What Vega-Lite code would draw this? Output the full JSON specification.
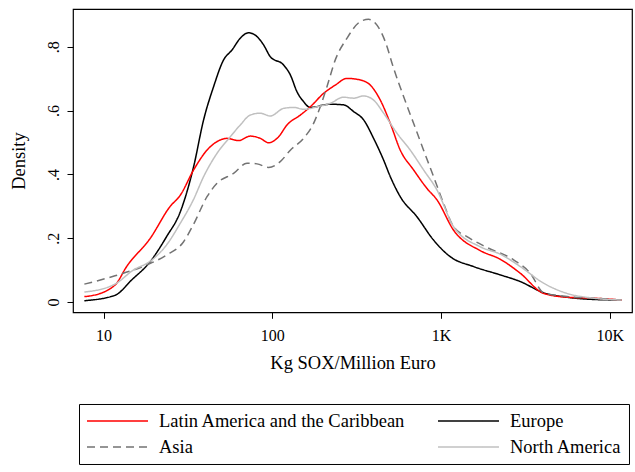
{
  "$schema": "https://vega.github.io/schema/vega-lite/v6.json",
  "autosize": {"type": "none"},
  "width": 559,
  "height": 303.3,
  "padding": {"left": 73, "top": 9, "right": 3, "bottom": 160},
  "background": "white",
  "config": {
    "font": "Liberation Serif",
    "view": {"stroke": "#000", "strokeWidth": 1.2},
    "axis": {"grid": false, "domain": false, "tickColor": "#000", "tickSize": 6, "labelFont": "Liberation Serif", "titleFont": "Liberation Serif", "labelColor": "#000", "titleColor": "#000", "titleFontWeight": "normal"}
  },
  "datasets": {
    "dens": [
      {"region": "Europe", "x": 7.69, "d": 0.004}, {"region": "Europe", "x": 11.68, "d": 0.021}, {"region": "Europe", "x": 14.66, "d": 0.069}, {"region": "Europe", "x": 18.92, "d": 0.127}, {"region": "Europe", "x": 23.63, "d": 0.205}, {"region": "Europe", "x": 28.5, "d": 0.283}, {"region": "Europe", "x": 34.16, "d": 0.424}, {"region": "Europe", "x": 39.16, "d": 0.571}, {"region": "Europe", "x": 44.87, "d": 0.675}, {"region": "Europe", "x": 51.44, "d": 0.759}, {"region": "Europe", "x": 57.69, "d": 0.79}, {"region": "Europe", "x": 64.61, "d": 0.827}, {"region": "Europe", "x": 72.36, "d": 0.844}, {"region": "Europe", "x": 81.16, "d": 0.832}, {"region": "Europe", "x": 88.79, "d": 0.806}, {"region": "Europe", "x": 97.3, "d": 0.769}, {"region": "Europe", "x": 116.7, "d": 0.743}, {"region": "Europe", "x": 127.9, "d": 0.712}, {"region": "Europe", "x": 140.1, "d": 0.659}, {"region": "Europe", "x": 153.3, "d": 0.628}, {"region": "Europe", "x": 168, "d": 0.61}, {"region": "Europe", "x": 220.7, "d": 0.62}, {"region": "Europe", "x": 264.6, "d": 0.618}, {"region": "Europe", "x": 303.4, "d": 0.597}, {"region": "Europe", "x": 347.8, "d": 0.571}, {"region": "Europe", "x": 398.5, "d": 0.513}, {"region": "Europe", "x": 456.8, "d": 0.445}, {"region": "Europe", "x": 500.6, "d": 0.393}, {"region": "Europe", "x": 573.7, "d": 0.33}, {"region": "Europe", "x": 720.7, "d": 0.267}, {"region": "Europe", "x": 903.8, "d": 0.194}, {"region": "Europe", "x": 1135, "d": 0.142}, {"region": "Europe", "x": 1561, "d": 0.111}, {"region": "Europe", "x": 2246, "d": 0.085}, {"region": "Europe", "x": 2953, "d": 0.064}, {"region": "Europe", "x": 4057, "d": 0.029}, {"region": "Europe", "x": 5584, "d": 0.015}, {"region": "Europe", "x": 8027, "d": 0.008}, {"region": "Europe", "x": 11830, "d": 0.006},
      {"region": "Latin America and the Caribbean", "x": 7.69, "d": 0.017}, {"region": "Latin America and the Caribbean", "x": 8.31, "d": 0.019}, {"region": "Latin America and the Caribbean", "x": 11.68, "d": 0.053}, {"region": "Latin America and the Caribbean", "x": 13.69, "d": 0.111}, {"region": "Latin America and the Caribbean", "x": 18.92, "d": 0.2}, {"region": "Latin America and the Caribbean", "x": 24.75, "d": 0.299}, {"region": "Latin America and the Caribbean", "x": 28.5, "d": 0.335}, {"region": "Latin America and the Caribbean", "x": 34.16, "d": 0.414}, {"region": "Latin America and the Caribbean", "x": 41.02, "d": 0.476}, {"region": "Latin America and the Caribbean", "x": 49.17, "d": 0.508}, {"region": "Latin America and the Caribbean", "x": 53.88, "d": 0.513}, {"region": "Latin America and the Caribbean", "x": 63.13, "d": 0.506}, {"region": "Latin America and the Caribbean", "x": 74.06, "d": 0.52}, {"region": "Latin America and the Caribbean", "x": 84.9, "d": 0.513}, {"region": "Latin America and the Caribbean", "x": 95.08, "d": 0.499}, {"region": "Latin America and the Caribbean", "x": 109, "d": 0.518}, {"region": "Latin America and the Caribbean", "x": 122.2, "d": 0.555}, {"region": "Latin America and the Caribbean", "x": 146.6, "d": 0.586}, {"region": "Latin America and the Caribbean", "x": 168, "d": 0.612}, {"region": "Latin America and the Caribbean", "x": 201.4, "d": 0.654}, {"region": "Latin America and the Caribbean", "x": 236.3, "d": 0.68}, {"region": "Latin America and the Caribbean", "x": 277.2, "d": 0.701}, {"region": "Latin America and the Caribbean", "x": 332.4, "d": 0.696}, {"region": "Latin America and the Caribbean", "x": 380.9, "d": 0.68}, {"region": "Latin America and the Caribbean", "x": 436.7, "d": 0.633}, {"region": "Latin America and the Caribbean", "x": 500.6, "d": 0.56}, {"region": "Latin America and the Caribbean", "x": 573.7, "d": 0.476}, {"region": "Latin America and the Caribbean", "x": 688, "d": 0.414}, {"region": "Latin America and the Caribbean", "x": 826, "d": 0.356}, {"region": "Latin America and the Caribbean", "x": 947, "d": 0.32}, {"region": "Latin America and the Caribbean", "x": 1188, "d": 0.225}, {"region": "Latin America and the Caribbean", "x": 1710, "d": 0.161}, {"region": "Latin America and the Caribbean", "x": 2246, "d": 0.134}, {"region": "Latin America and the Caribbean", "x": 2953, "d": 0.09}, {"region": "Latin America and the Caribbean", "x": 4057, "d": 0.027}, {"region": "Latin America and the Caribbean", "x": 5584, "d": 0.015}, {"region": "Latin America and the Caribbean", "x": 8027, "d": 0.012}, {"region": "Latin America and the Caribbean", "x": 11830, "d": 0.006},
      {"region": "Asia", "x": 7.69, "d": 0.056}, {"region": "Asia", "x": 11.68, "d": 0.082}, {"region": "Asia", "x": 17.98, "d": 0.116}, {"region": "Asia", "x": 23.63, "d": 0.147}, {"region": "Asia", "x": 29.81, "d": 0.189}, {"region": "Asia", "x": 34.16, "d": 0.244}, {"region": "Asia", "x": 41.02, "d": 0.33}, {"region": "Asia", "x": 47.01, "d": 0.372}, {"region": "Asia", "x": 58.96, "d": 0.403}, {"region": "Asia", "x": 70.79, "d": 0.435}, {"region": "Asia", "x": 81.16, "d": 0.433}, {"region": "Asia", "x": 95.08, "d": 0.422}, {"region": "Asia", "x": 111.5, "d": 0.44}, {"region": "Asia", "x": 127.9, "d": 0.476}, {"region": "Asia", "x": 153.3, "d": 0.513}, {"region": "Asia", "x": 175.7, "d": 0.56}, {"region": "Asia", "x": 192.5, "d": 0.612}, {"region": "Asia", "x": 210.9, "d": 0.675}, {"region": "Asia", "x": 236.3, "d": 0.759}, {"region": "Asia", "x": 277.2, "d": 0.827}, {"region": "Asia", "x": 332.4, "d": 0.879}, {"region": "Asia", "x": 372.2, "d": 0.886}, {"region": "Asia", "x": 417.4, "d": 0.868}, {"region": "Asia", "x": 467.5, "d": 0.816}, {"region": "Asia", "x": 523.6, "d": 0.733}, {"region": "Asia", "x": 600.2, "d": 0.644}, {"region": "Asia", "x": 688, "d": 0.56}, {"region": "Asia", "x": 788.6, "d": 0.476}, {"region": "Asia", "x": 903.8, "d": 0.393}, {"region": "Asia", "x": 1036, "d": 0.309}, {"region": "Asia", "x": 1188, "d": 0.236}, {"region": "Asia", "x": 1426, "d": 0.205}, {"region": "Asia", "x": 1874, "d": 0.171}, {"region": "Asia", "x": 2694, "d": 0.132}, {"region": "Asia", "x": 3384, "d": 0.09}, {"region": "Asia", "x": 4057, "d": 0.029}, {"region": "Asia", "x": 5584, "d": 0.017}, {"region": "Asia", "x": 8027, "d": 0.012}, {"region": "Asia", "x": 11830, "d": 0.006},
      {"region": "North America", "x": 7.69, "d": 0.031}, {"region": "North America", "x": 11.68, "d": 0.056}, {"region": "North America", "x": 15, "d": 0.1}, {"region": "North America", "x": 18.92, "d": 0.128}, {"region": "North America", "x": 23.63, "d": 0.179}, {"region": "North America", "x": 28.5, "d": 0.247}, {"region": "North America", "x": 34.02, "d": 0.32}, {"region": "North America", "x": 39.16, "d": 0.393}, {"region": "North America", "x": 47.01, "d": 0.466}, {"region": "North America", "x": 56.36, "d": 0.518}, {"region": "North America", "x": 64.61, "d": 0.555}, {"region": "North America", "x": 74.06, "d": 0.586}, {"region": "North America", "x": 84.9, "d": 0.592}, {"region": "North America", "x": 97.3, "d": 0.583}, {"region": "North America", "x": 116.7, "d": 0.607}, {"region": "North America", "x": 133.8, "d": 0.61}, {"region": "North America", "x": 153.3, "d": 0.604}, {"region": "North America", "x": 184.1, "d": 0.612}, {"region": "North America", "x": 220.7, "d": 0.623}, {"region": "North America", "x": 264.6, "d": 0.642}, {"region": "North America", "x": 303.4, "d": 0.639}, {"region": "North America", "x": 347.8, "d": 0.646}, {"region": "North America", "x": 398.5, "d": 0.633}, {"region": "North America", "x": 456.8, "d": 0.592}, {"region": "North America", "x": 548.5, "d": 0.529}, {"region": "North America", "x": 657.7, "d": 0.476}, {"region": "North America", "x": 788.6, "d": 0.414}, {"region": "North America", "x": 947, "d": 0.351}, {"region": "North America", "x": 1188, "d": 0.236}, {"region": "North America", "x": 1710, "d": 0.173}, {"region": "North America", "x": 2246, "d": 0.15}, {"region": "North America", "x": 2953, "d": 0.111}, {"region": "North America", "x": 4057, "d": 0.059}, {"region": "North America", "x": 5584, "d": 0.027}, {"region": "North America", "x": 8027, "d": 0.012}, {"region": "North America", "x": 11830, "d": 0.006}
    ]
  },
  "data": {"name": "dens"},
  "mark": {"type": "line", "interpolate": "monotone", "strokeWidth": 1.5, "clip": true},
  "encoding": {
    "x": {
      "field": "x", "type": "quantitative",
      "scale": {"type": "log", "domain": [6.586, 13560], "nice": false},
      "axis": {"values": [10, 100, 1000, 10000], "labelExpr": "datum.value >= 1000 ? (datum.value/1000) + 'K' : '' + datum.value", "labelFontSize": 16, "labelBaseline": "alphabetic", "labelPadding": 22.7, "labelAlign": "center", "title": "Kg SOX/Million Euro", "titleFontSize": 18.5, "titleBaseline": "alphabetic", "titleY": 55.9}
    },
    "y": {
      "field": "d", "type": "quantitative",
      "scale": {"domain": [-0.0323, 0.9185], "nice": false, "zero": false},
      "axis": {"values": [0, 0.2, 0.4, 0.6, 0.8], "labelExpr": "datum.value == 0 ? '0' : replace(format(datum.value, '.1f'), '0.', '.')", "labelFontSize": 16, "labelAngle": 270, "labelAlign": "center", "labelBaseline": "alphabetic", "labelPadding": 9, "title": "Density", "titleFontSize": 18.5, "titleAngle": 270, "titleAlign": "center", "titleBaseline": "alphabetic", "titleX": -48.5, "titleY": 151.6}
    },
    "color": {
      "field": "region", "type": "nominal",
      "scale": {"domain": ["Latin America and the Caribbean", "Asia", "Europe", "North America"], "range": ["#ff0000", "#737373", "#000000", "#c0c0c0"]},
      "legend": {"orient": "none", "legendX": 6, "legendY": 395, "columns": 2, "columnPadding": 31, "rowPadding": 6, "clipHeight": 20, "padding": 7, "title": null, "symbolType": "stroke", "symbolSize": 3721, "symbolStrokeWidth": 1.5, "labelFont": "Liberation Serif", "labelFontSize": 18.5, "labelColor": "#000", "labelOffset": 10, "labelLimit": 400, "strokeColor": "#000", "fillColor": "white", "cornerRadius": 0}
    },
    "strokeDash": {
      "field": "region", "type": "nominal",
      "scale": {"domain": ["Latin America and the Caribbean", "Asia", "Europe", "North America"], "range": [[1, 0], [8, 5], [1, 0], [1, 0]]},
      "legend": {"orient": "none", "legendX": 6, "legendY": 395, "columns": 2, "columnPadding": 31, "rowPadding": 6, "clipHeight": 20, "padding": 7, "title": null, "symbolType": "stroke", "symbolSize": 3721, "symbolStrokeWidth": 1.5, "labelFont": "Liberation Serif", "labelFontSize": 18.5, "labelColor": "#000", "labelOffset": 10, "labelLimit": 400, "strokeColor": "#000", "fillColor": "white", "cornerRadius": 0}
    }
  }
}
